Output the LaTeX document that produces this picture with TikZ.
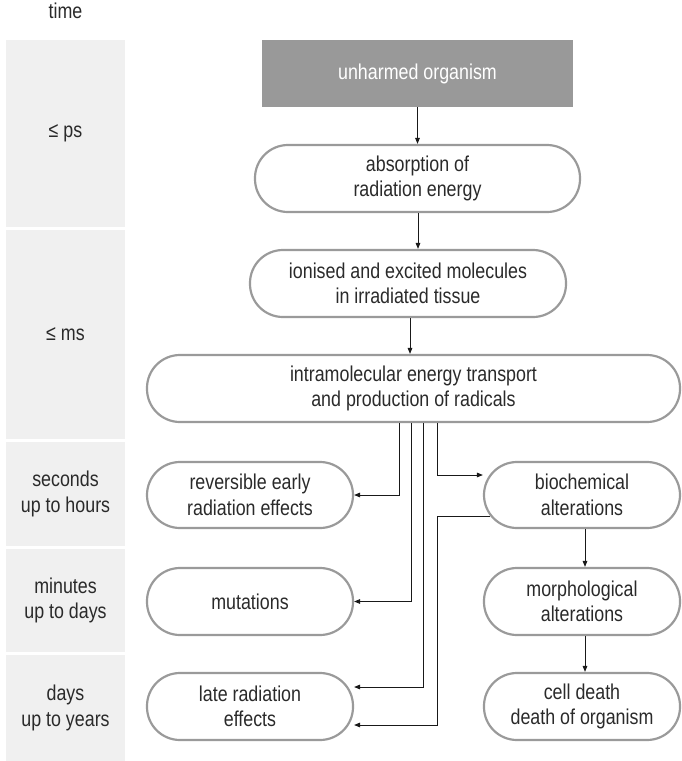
\documentclass[tikz,border=0pt]{standalone}
\usepackage{fontspec}
\setmainfont{Liberation Sans}[FakeStretch=0.83]
\usetikzlibrary{arrows.meta,calc}
\definecolor{bandgray}{HTML}{F0F0F0}
\definecolor{boxline}{HTML}{9A9A9A}
\definecolor{headfill}{HTML}{999999}
\definecolor{txt}{HTML}{2A2A2A}
\tikzset{
  lbl/.style={font=\fontsize{21.5}{25.5}\selectfont, text=txt, align=center, inner sep=0pt},
  band/.style={lbl, fill=bandgray, minimum width=119pt},
  pill/.style={lbl, draw=boxline, line width=2.2pt, rounded corners=33pt, minimum height=67pt},
  head/.style={lbl, fill=headfill, text=white, minimum height=67pt},
  arr/.style={draw=black!90, line width=0.9pt, -{Triangle[length=6pt,width=4.6pt]}},
}
\begin{document}
\begin{tikzpicture}[x=1pt,y=-1pt]
\useasboundingbox (0,0) rectangle (681,761);
% time column
\node[lbl] (time) at (65.5,11) {time};
\node[band, minimum height=187pt] (b1) at (65.5,133.5) {≤ ps};
\node[band, minimum height=209pt] (b2) at (65.5,334.5) {≤ ms};
\node[band, minimum height=104pt] (b3) at (65.5,494) {seconds\\up to hours};
\node[band, minimum height=103pt] (b4) at (65.5,600.5) {minutes\\up to days};
\node[band, minimum height=106pt] (b5) at (65.5,708) {days\\up to years};
% main chain
\node[head, minimum width=311pt] (uo) at (417.5,73.5) {unharmed organism};
\node[pill, minimum width=325pt] (abs) at (417.5,178.5) {absorption of\\radiation energy};
\node[pill, minimum width=316pt] (ion) at (408,283.5) {ionised and excited molecules\\in irradiated tissue};
\node[pill, minimum width=533pt] (intra) at (413.5,388.5) {intramolecular energy transport\\and production of radicals};
% left effects
\node[pill, minimum width=206pt, minimum height=66pt] (rev) at (250,495) {reversible early\\radiation effects};
\node[pill, minimum width=206pt] (mut) at (250,601.5) {mutations};
\node[pill, minimum width=206pt] (late) at (250,706.5) {late radiation\\effects};
% right effects
\node[pill, minimum width=196pt, minimum height=66pt] (bio) at (582,495) {biochemical\\alterations};
\node[pill, minimum width=196pt] (morph) at (582,601.5) {morphological\\alterations};
\node[pill, minimum width=196pt] (cell) at (582,706.5) {cell death\\death of organism};
% helper coordinates
\coordinate (c1) at (399,0);
\coordinate (c2) at (411,0);
\coordinate (c3) at (423,0);
\coordinate (c4) at (437,0);
\coordinate (t4) at ($(late.east)+(0,-19.5)$);
\coordinate (t5) at ($(late.east)+(0,18.5)$);
\coordinate (tb) at ($(bio.west)+(0,-20)$);
\coordinate (s5) at ($(bio.west)+(7,21)$);
% connectors
\draw[arr] (uo.south) -- (uo.south |- abs.north);
\draw[arr] ([xshift=0.5pt]abs.south) -- ([xshift=0.5pt]abs.south |- ion.north);
\draw[arr] ([xshift=2pt]ion.south) -- ([xshift=2pt]ion.south |- intra.north);
\draw[arr] (intra.south -| c1) |- (rev.east);
\draw[arr] (intra.south -| c2) |- (mut.east);
\draw[arr] (intra.south -| c3) |- (t4);
\draw[arr] (intra.south -| c4) |- (tb);
\draw[arr] (s5) -| (t5 -| c4) -- (t5);
\draw[arr] ([xshift=3pt]bio.south) -- ([xshift=3pt]morph.north);
\draw[arr] ([xshift=3pt]morph.south) -- ([xshift=3pt]cell.north);
\end{tikzpicture}
\end{document}
